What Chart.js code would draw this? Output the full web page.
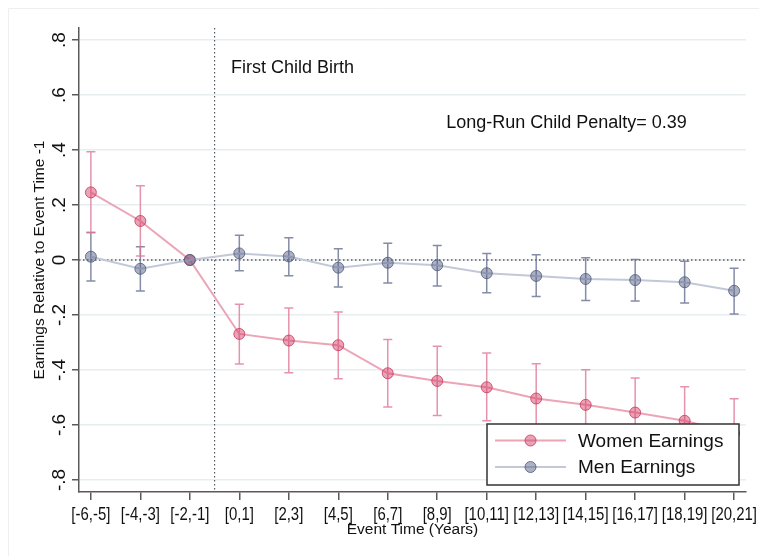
<!DOCTYPE html>
<html>
<head>
<meta charset="utf-8">
<script src="https://cdn.jsdelivr.net/npm/chart.js@4/dist/chart.umd.min.js"></script>
<style>
  html, body { margin: 0; padding: 0; background: #ffffff; }
  #wrap { position: relative; width: 759px; height: 556px; }
</style>
</head>
<body>
<div id="wrap"><canvas id="c" width="759" height="556"></canvas></div>
<script>
// Event-time bins (years relative to first child birth)
const categories = ['[-6,-5]', '[-4,-3]', '[-2,-1]', '[0,1]', '[2,3]', '[4,5]', '[6,7]',
  '[8,9]', '[10,11]', '[12,13]', '[14,15]', '[16,17]', '[18,19]', '[20,21]'];

// Women: point estimates and 95% confidence bounds
const womenEarnings = [0.246, 0.142, 0, -0.269, -0.293, -0.310, -0.412, -0.440, -0.463, -0.504, -0.527, -0.555, -0.585, -0.630];
const womenLower    = [0.100, 0.015, 0, -0.378, -0.410, -0.432, -0.535, -0.566, -0.585, -0.631, -0.655, -0.681, -0.710, -0.755];
const womenUpper    = [0.394, 0.270, 0, -0.161, -0.175, -0.189, -0.289, -0.314, -0.338, -0.377, -0.399, -0.429, -0.461, -0.505];

// Men: point estimates and 95% confidence bounds
const menEarnings = [0.012, -0.032, 0, 0.024, 0.013, -0.028, -0.010, -0.019, -0.048, -0.058, -0.069, -0.073, -0.081, -0.112];
const menLower    = [-0.076, -0.113, 0, -0.039, -0.057, -0.098, -0.084, -0.095, -0.119, -0.133, -0.147, -0.149, -0.156, -0.196];
const menUpper    = [0.100, 0.048, 0, 0.090, 0.081, 0.041, 0.061, 0.053, 0.024, 0.019, 0.008, 0.002, -0.005, -0.030];

// Y-axis ticks and their printed labels
const yTicks = [0.8, 0.6, 0.4, 0.2, 0, -0.2, -0.4, -0.6, -0.8];
const yTickLabels = ['.8', '.6', '.4', '.2', '0', '-.2', '-.4', '-.6', '-.8'];

const seriesNames = ['Women Earnings', 'Men Earnings'];
const birthEventPosition = 2.5;            // between [-2,-1] and [0,1]
const birthLabel = 'First Child Birth';
const penaltyLabel = 'Long-Run Child Penalty= 0.39';

const STYLE = {
  women: { line: 'rgb(236,164,183)', fill: 'rgba(214,70,108,0.5)', edge: 'rgba(200,55,95,0.8)', err: 'rgba(222,120,150,0.8)' },
  men:   { line: 'rgb(194,200,216)', fill: 'rgba(90,100,135,0.5)', edge: 'rgba(80,90,125,0.8)', err: 'rgba(110,120,150,0.85)' },
  axis: '#5a5a5a',
  grid: '#e6eef0',
  font: '"Liberation Sans", Arial, sans-serif'
};

const toXY = arr => arr.map((v, i) => ({ x: i, y: v }));

// Faint frame around the graph region
const framePlugin = {
  id: 'frame',
  beforeDraw(chart) {
    const ctx = chart.ctx;
    ctx.save();
    ctx.fillStyle = '#ffffff';
    ctx.fillRect(0, 0, chart.width, chart.height);
    ctx.strokeStyle = '#efefef';
    ctx.lineWidth = 1;
    ctx.beginPath();
    ctx.moveTo(8.5, chart.height);
    ctx.lineTo(8.5, 8.5);
    ctx.lineTo(chart.width, 8.5);
    ctx.stroke();
    ctx.restore();
  }
};

// Dotted reference lines: y = 0 and the birth event
const refLinesPlugin = {
  id: 'refLines',
  beforeDatasetsDraw(chart) {
    const { ctx, chartArea, scales } = chart;
    ctx.save();
    ctx.strokeStyle = '#555a60';
    ctx.lineWidth = 1.5;
    ctx.setLineDash([1.5, 2.5]);
    const y0 = scales.y.getPixelForValue(0);
    ctx.beginPath();
    ctx.moveTo(chartArea.left, y0);
    ctx.lineTo(chartArea.right, y0);
    ctx.stroke();
    ctx.lineWidth = 1.2;
    const xe = scales.x.getPixelForValue(birthEventPosition);
    ctx.beginPath();
    ctx.moveTo(xe, chartArea.top);
    ctx.lineTo(xe, chartArea.bottom);
    ctx.stroke();
    ctx.restore();
  }
};

// Confidence-interval whiskers with caps
const errorBarsPlugin = {
  id: 'errorBars',
  beforeDatasetsDraw(chart) {
    const { ctx, scales } = chart;
    const sets = [
      { lo: menLower, hi: menUpper, color: STYLE.men.err },
      { lo: womenLower, hi: womenUpper, color: STYLE.women.err }
    ];
    ctx.save();
    ctx.lineWidth = 1.5;
    sets.forEach(s => {
      ctx.strokeStyle = s.color;
      s.lo.forEach((lo, i) => {
        const hi = s.hi[i];
        if (lo === hi) return;
        const x = scales.x.getPixelForValue(i);
        const y1 = scales.y.getPixelForValue(lo);
        const y2 = scales.y.getPixelForValue(hi);
        ctx.beginPath();
        ctx.moveTo(x, y1); ctx.lineTo(x, y2);
        ctx.moveTo(x - 4.5, y1); ctx.lineTo(x + 4.5, y1);
        ctx.moveTo(x - 4.5, y2); ctx.lineTo(x + 4.5, y2);
        ctx.stroke();
      });
    });
    ctx.restore();
  }
};

// Boxed legend in the lower-right corner of the plot
const legendBoxPlugin = {
  id: 'legendBox',
  afterDatasetsDraw(chart) {
    const { ctx, chartArea } = chart;
    const left = chartArea.right - 259, right = chartArea.right - 7;
    const top = chartArea.bottom - 68, bottom = chartArea.bottom - 7;
    ctx.save();
    ctx.fillStyle = '#ffffff';
    ctx.fillRect(left, top, right - left, bottom - top);
    ctx.strokeStyle = '#333333';
    ctx.lineWidth = 1.5;
    ctx.strokeRect(left, top, right - left, bottom - top);
    const rows = [
      { name: seriesNames[0], s: STYLE.women, y: top + 16.5 },
      { name: seriesNames[1], s: STYLE.men, y: top + 43 }
    ];
    rows.forEach(r => {
      ctx.strokeStyle = r.s.line;
      ctx.lineWidth = 2;
      ctx.beginPath();
      ctx.moveTo(left + 8, r.y); ctx.lineTo(left + 79, r.y);
      ctx.stroke();
      ctx.beginPath();
      ctx.arc(left + 43.5, r.y, 5.5, 0, Math.PI * 2);
      ctx.fillStyle = r.s.fill;
      ctx.fill();
      ctx.strokeStyle = r.s.edge;
      ctx.lineWidth = 1;
      ctx.stroke();
      ctx.fillStyle = '#111111';
      ctx.font = '19px ' + STYLE.font;
      ctx.textAlign = 'left';
      ctx.textBaseline = 'middle';
      ctx.fillText(r.name, left + 91, r.y + 1);
    });
    ctx.restore();
  }
};

// Rotated y tick labels, condensed x tick labels and in-plot notes
const textPlugin = {
  id: 'texts',
  afterDraw(chart) {
    const { ctx, scales, chartArea } = chart;
    ctx.save();
    ctx.fillStyle = '#111111';
    ctx.font = '19px ' + STYLE.font;
    ctx.textAlign = 'center';
    ctx.textBaseline = 'alphabetic';
    yTicks.forEach((v, i) => {
      const y = scales.y.getPixelForValue(v);
      ctx.save();
      ctx.translate(chartArea.left - 14, y);
      ctx.rotate(-Math.PI / 2);
      ctx.fillText(yTickLabels[i], 0, 0);
      ctx.restore();
    });
    ctx.font = '18px ' + STYLE.font;
    ctx.textBaseline = 'middle';
    categories.forEach((c, i) => {
      const x = scales.x.getPixelForValue(i);
      ctx.save();
      ctx.translate(x, chartArea.bottom + 23);
      ctx.scale(0.83, 1);
      ctx.fillText(c, 0, 0);
      ctx.restore();
    });
    ctx.textAlign = 'left';
    ctx.fillText(birthLabel, scales.x.getPixelForValue(2.83), scales.y.getPixelForValue(0.70));
    ctx.fillText(penaltyLabel, scales.x.getPixelForValue(7.18), scales.y.getPixelForValue(0.498));
    ctx.restore();
  }
};

new Chart(document.getElementById('c'), {
  type: 'line',
  data: {
    datasets: [
      {
        label: seriesNames[1],
        data: toXY(menEarnings),
        borderColor: STYLE.men.line,
        borderWidth: 2,
        pointRadius: 5.5,
        pointBackgroundColor: STYLE.men.fill,
        pointBorderColor: STYLE.men.edge,
        pointBorderWidth: 1,
        tension: 0
      },
      {
        label: seriesNames[0],
        data: toXY(womenEarnings),
        borderColor: STYLE.women.line,
        borderWidth: 2,
        pointRadius: 5.5,
        pointBackgroundColor: STYLE.women.fill,
        pointBorderColor: STYLE.women.edge,
        pointBorderWidth: 1,
        tension: 0
      }
    ]
  },
  options: {
    responsive: false,
    animation: false,
    devicePixelRatio: 1,
    layout: { padding: { left: 20, top: 28, right: 13, bottom: 0 } },
    plugins: {
      legend: { display: false },
      tooltip: { enabled: false }
    },
    scales: {
      x: {
        type: 'linear',
        min: -0.24,
        max: 13.24,
        afterBuildTicks: scale => { scale.ticks = categories.map((_, i) => ({ value: i })); },
        afterFit: scale => { scale.height = 64; },
        grid: { drawOnChartArea: false, tickColor: STYLE.axis, tickLength: 8, lineWidth: 1.5 },
        border: { color: STYLE.axis, width: 1.5 },
        ticks: { display: false },
        title: {
          display: true,
          text: 'Event Time (Years)',
          color: '#111111',
          font: { family: STYLE.font, size: 15.5 },
          padding: { top: 0, bottom: 17 }
        }
      },
      y: {
        type: 'linear',
        min: -0.844,
        max: 0.844,
        afterBuildTicks: scale => { scale.ticks = yTicks.map(v => ({ value: v })); },
        afterFit: scale => { scale.width = 59; },
        grid: { color: STYLE.grid, lineWidth: 1.5, tickColor: STYLE.axis, tickLength: 7 },
        border: { color: STYLE.axis, width: 1.5 },
        ticks: { display: false },
        title: {
          display: true,
          text: 'Earnings Relative to Event Time -1',
          color: '#111111',
          font: { family: STYLE.font, size: 15.5 },
          padding: { top: 10, bottom: 0 }
        }
      }
    }
  },
  plugins: [framePlugin, refLinesPlugin, errorBarsPlugin, legendBoxPlugin, textPlugin]
});
</script>
</body>
</html>
